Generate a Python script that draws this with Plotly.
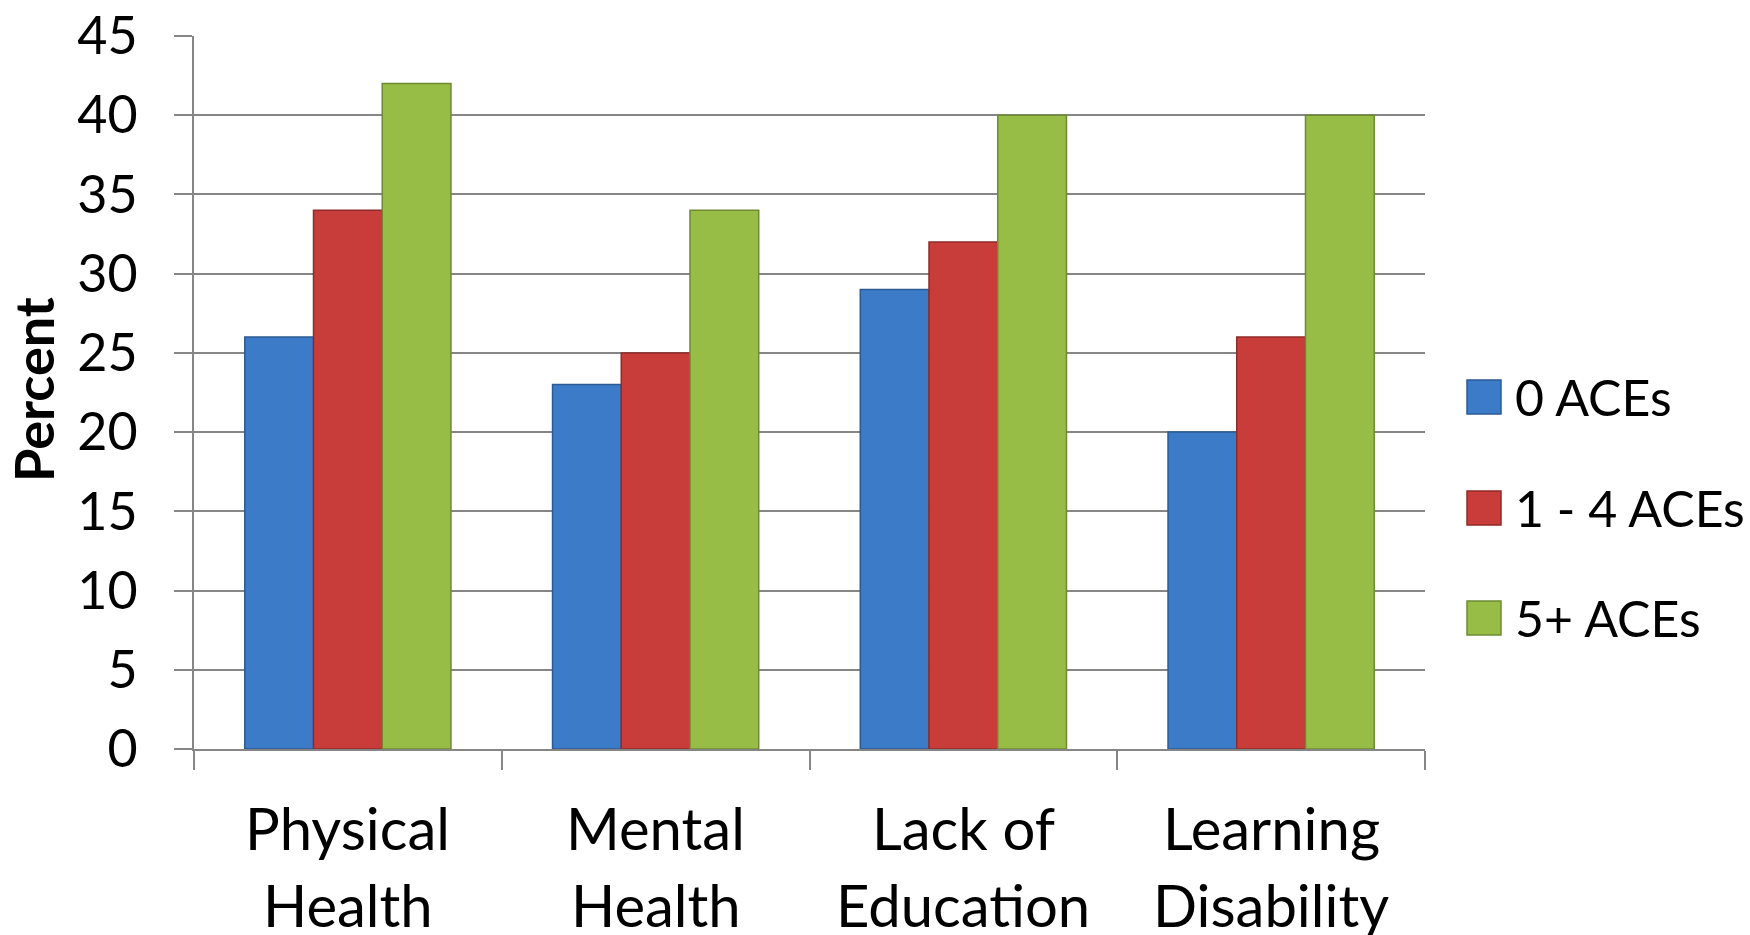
import plotly.graph_objects as go

# Share of adults reporting each outcome, by number of adverse childhood experiences
category_lines = [["Physical", "Health"], ["Mental", "Health"], ["Lack of", "Education"], ["Learning", "Disability"]]
categories = [" ".join(lines) for lines in category_lines]
series_names = ["0 ACEs", "1 - 4 ACEs", "5+ ACEs"]
aces_0 = [26, 23, 29, 20]
aces_1_4 = [34, 25, 32, 26]
aces_5_plus = [42, 34, 40, 40]
y_ticks = [0, 5, 10, 15, 20, 25, 30, 35, 40, 45]

fills = ["#3b7bc8", "#c83d3a", "#98bd47"]
edges = ["#2c5b94", "#8f2b29", "#6e8a33"]
FONT = "Lato"

fig = go.Figure()
for name, vals, fill, edge in zip(series_names, [aces_0, aces_1_4, aces_5_plus], fills, edges):
    fig.add_trace(go.Bar(
        name=name, x=categories, y=vals,
        marker=dict(color=fill, line=dict(color=edge, width=1.5)),
        showlegend=False,
    ))

plot_l, plot_r, plot_t, plot_b = 194, 1425, 36, 749
W, H = 1750, 935


def px_to_paper_x(px):
    return (px - plot_l) / (plot_r - plot_l)


def px_to_paper_y(py):
    return (plot_b - py) / (plot_b - plot_t)


shapes = []
annotations = []

# Legend: large swatches with labels to the right of the plot
legend_rows = [397, 508, 618]
for name, fill, edge, cy in zip(series_names, fills, edges, legend_rows):
    shapes.append(dict(
        type="rect", xref="paper", yref="paper",
        x0=px_to_paper_x(1467), x1=px_to_paper_x(1501),
        y0=px_to_paper_y(cy + 17), y1=px_to_paper_y(cy - 17),
        fillcolor=fill, line=dict(color=edge, width=1.5),
    ))
    annotations.append(dict(
        xref="paper", yref="paper",
        x=px_to_paper_x(1513), y=px_to_paper_y(cy),
        xanchor="left", yanchor="middle", showarrow=False,
        text=name, font=dict(family=FONT, size=50, color="black"),
    ))

# Two-line category labels under each group
for cat, lines in zip(categories, category_lines):
    for line, cy in zip(lines, [827, 905]):
        annotations.append(dict(
            xref="x", yref="paper", x=cat, y=px_to_paper_y(cy),
            xanchor="center", yanchor="middle", showarrow=False,
            text=line, font=dict(family=FONT, size=58, color="black"),
        ))

annotations.append(dict(
    xref="paper", yref="paper",
    x=px_to_paper_x(33), y=px_to_paper_y(390),
    xanchor="center", yanchor="middle", showarrow=False, textangle=-90,
    text="<b>Percent</b>", font=dict(family=FONT, size=54, color="black"),
))

fig.update_layout(
    width=W, height=H,
    margin=dict(l=plot_l, r=W - plot_r, t=plot_t, b=H - plot_b, pad=0, autoexpand=False),
    paper_bgcolor="white", plot_bgcolor="white",
    barmode="group", bargap=0.33, bargroupgap=0,
    font=dict(family=FONT, color="black"),
    shapes=shapes, annotations=annotations,
)
fig.update_xaxes(
    automargin=False, showticklabels=False,
    showline=True, linecolor="#868686", linewidth=2,
    ticks="outside", tickson="boundaries", ticklen=19, tickwidth=2, tickcolor="#868686",
    showgrid=False, zeroline=False,
)
fig.update_yaxes(
    automargin=False,
    range=[0, 45], tickvals=y_ticks,
    showline=True, linecolor="#868686", linewidth=2,
    showgrid=True, gridcolor="#868686", gridwidth=2,
    ticks="outside", ticklen=18, tickwidth=2, tickcolor="#868686",
    ticklabelstandoff=26,
    tickfont=dict(family=FONT, size=52, color="black"),
    zeroline=False,
)

fig.write_html("out.html")
